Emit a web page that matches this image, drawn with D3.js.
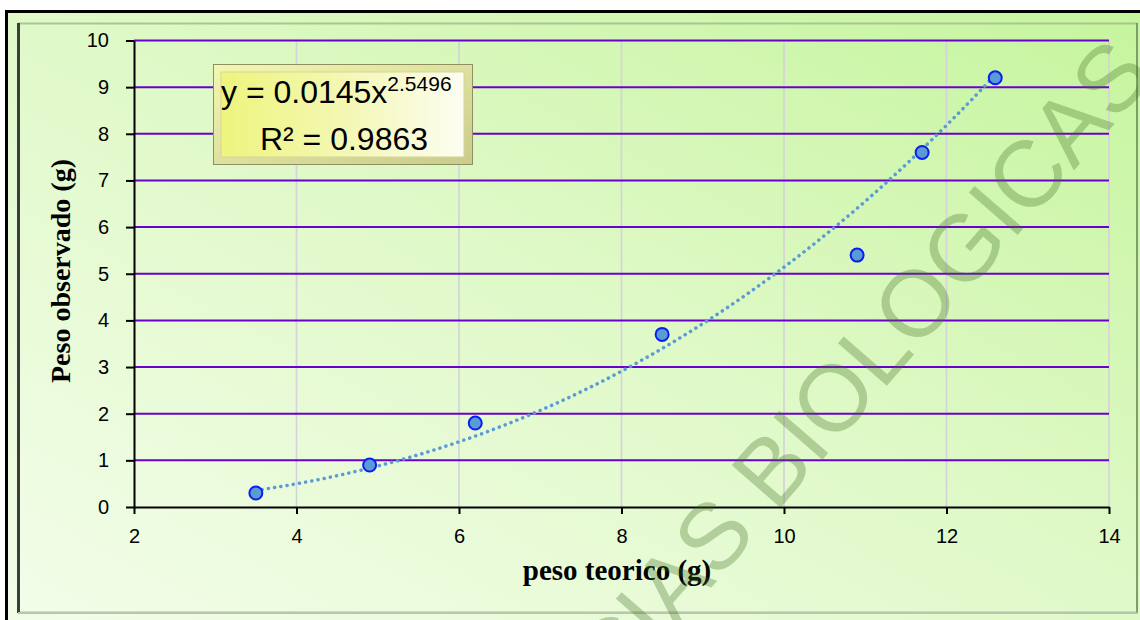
<!DOCTYPE html>
<html><head><meta charset="utf-8">
<script src="https://cdn.jsdelivr.net/npm/d3@7"></script>
<style>html,body{margin:0;padding:0;background:#fff;} svg{display:block;}</style>
</head><body><svg id="chart" width="1140" height="620"></svg>
<script>
// ---- data ----
const pesoTeorico   = [3.5, 4.9, 6.2, 8.5, 10.9, 11.7, 12.6];
const pesoObservado = [0.3, 0.9, 1.8, 3.7, 5.4, 7.6, 9.2];
const xTicks = [2, 4, 6, 8, 10, 12, 14];
const yTicks = [0, 1, 2, 3, 4, 5, 6, 7, 8, 9, 10];
const trendCoef = 0.0145;
const trendExp = 2.5496;
const rSquared = 0.9863;
const xTitle = "peso teorico (g)";
const yTitle = "Peso observado (g)";
const watermark = "CIENCIAS BIOLOGICAS";

const svg = d3.select("#chart");
const defs = svg.append("defs");

const bg = defs.append("linearGradient").attr("id","bg")
  .attr("x1","0").attr("y1","1").attr("x2","1").attr("y2","0");
bg.append("stop").attr("offset","0").attr("stop-color","#f3fde9");
bg.append("stop").attr("offset","0.5").attr("stop-color","#e0f9c9");
bg.append("stop").attr("offset","1").attr("stop-color","#c6f59e");

const bf = defs.append("linearGradient").attr("id","boxFill")
  .attr("x1","0").attr("y1","0").attr("x2","1").attr("y2","0");
bf.append("stop").attr("offset","0").attr("stop-color","#eef47e");
bf.append("stop").attr("offset","0.55").attr("stop-color","#f4f8b8");
bf.append("stop").attr("offset","1").attr("stop-color","#fdfdf2");

const be = defs.append("linearGradient").attr("id","boxEdge")
  .attr("x1","0").attr("y1","0").attr("x2","1").attr("y2","1");
be.append("stop").attr("offset","0").attr("stop-color","#f4f7b0");
be.append("stop").attr("offset","1").attr("stop-color","#c9cc8a");

// ---- frame ----
svg.append("rect").attr("x",6.5).attr("y",11.5).attr("width",1140).attr("height",620)
  .attr("fill","url(#bg)").attr("stroke","#000").attr("stroke-width",3);
svg.append("rect").attr("x",19).attr("y",23.5).attr("width",1118).attr("height",589)
  .attr("fill","url(#bg)").attr("stroke","#a9c692").attr("stroke-width",2);
svg.append("line").attr("x1",18.5).attr("x2",18.5).attr("y1",23).attr("y2",613)
  .attr("stroke","#3d3d3d").attr("stroke-width",3);
svg.append("line").attr("x1",1137).attr("x2",1137).attr("y1",23).attr("y2",613)
  .attr("stroke","#7f9f68").attr("stroke-width",2);
svg.append("line").attr("x1",18).attr("x2",1137).attr("y1",613).attr("y2",613)
  .attr("stroke","#b7c7ad").attr("stroke-width",2);

// ---- scales ----
const x = d3.scaleLinear().domain([2, 14]).range([134, 1109]);
const y = d3.scaleLinear().domain([0, 10]).range([507, 40.5]);

// gridlines
const g = svg.append("g");
g.selectAll("line.vg").data(xTicks.slice(1)).enter().append("line")
  .attr("x1", d => x(d)).attr("x2", d => x(d))
  .attr("y1", y(10)).attr("y2", y(0))
  .attr("stroke","#d4d2da").attr("stroke-width",1.6);
g.selectAll("line.hg").data(yTicks.slice(1)).enter().append("line")
  .attr("x1", x(2)).attr("x2", x(14))
  .attr("y1", d => y(d)).attr("y2", d => y(d))
  .attr("stroke","#6a00cc").attr("stroke-width",2);

// axes
const tickFont = "'Liberation Sans', Arial, sans-serif";
const xAxis = svg.append("g").attr("transform",`translate(0,${y(0)})`)
  .call(d3.axisBottom(x).tickValues(xTicks).tickSize(7).tickSizeOuter(0).tickPadding(15));
const yAxis = svg.append("g").attr("transform",`translate(${x(2)},0)`)
  .call(d3.axisLeft(y).tickValues(yTicks).tickSize(8).tickSizeOuter(0).tickPadding(17));
[xAxis, yAxis].forEach(a => {
  a.select(".domain").attr("stroke","#000").attr("stroke-width",2);
  a.selectAll(".tick line").attr("stroke","#000").attr("stroke-width",2);
  a.selectAll(".tick text").attr("fill","#000").style("font-family",tickFont).style("font-size","20px");
});

// axis titles
svg.append("text").attr("x",617).attr("y",580).attr("text-anchor","middle")
  .style("font-family","'Liberation Serif','Times New Roman',serif").style("font-weight","bold")
  .style("font-size","29px").attr("fill","#000").text(xTitle);
svg.append("text").attr("transform","translate(70,271) rotate(-90)").attr("text-anchor","middle")
  .style("font-family","'Liberation Serif','Times New Roman',serif").style("font-weight","bold")
  .style("font-size","28px").attr("fill","#000").text(yTitle);

// trendline (power fit shown in the box)
const trendX = d3.range(0, 101).map(i => pesoTeorico[0] + (pesoTeorico[pesoTeorico.length-1]-pesoTeorico[0]) * i / 100);
const line = d3.line().x(d => x(d)).y(d => y(trendCoef * Math.pow(d, trendExp)));
svg.append("path").datum(trendX).attr("d", line).attr("fill","none")
  .attr("stroke","#5b9bd5").attr("stroke-width",3.5)
  .attr("stroke-dasharray","0.1 6.2").attr("stroke-linecap","round");

// points
svg.selectAll("circle.pt").data(pesoTeorico).enter().append("circle")
  .attr("cx", d => x(d)).attr("cy", (d,i) => y(pesoObservado[i])).attr("r",6.5)
  .attr("fill","#5b9bd5").attr("stroke","#0a1ef0").attr("stroke-width",2);

// equation box
const box = svg.append("g");
box.append("rect").attr("x",213.5).attr("y",64.5).attr("width",259).attr("height",100)
  .attr("fill","url(#boxEdge)").attr("stroke","#8e9063").attr("stroke-width",1);
box.append("rect").attr("x",221).attr("y",72).attr("width",243).attr("height",85)
  .attr("fill","url(#boxFill)").attr("stroke","#d3d59a").attr("stroke-width",1);
const eqFont = "'Liberation Sans', Arial, sans-serif";
const t1 = box.append("text").attr("x",221).attr("y",103)
  .style("font-family",eqFont).style("font-size","32px").attr("fill","#000");
t1.append("tspan").text("y = " + trendCoef + "x");
t1.append("tspan").attr("dy",-12).style("font-size","21px").text(trendExp);
box.append("text").attr("x",344).attr("y",150).attr("text-anchor","middle")
  .style("font-family",eqFont).style("font-size","32px").attr("fill","#000")
  .text("R² = " + rSquared);

// watermark
svg.append("text").attr("transform","translate(1156,76) rotate(-49)").attr("text-anchor","end")
  .style("font-family","'Liberation Sans', Arial, sans-serif").style("font-size","94px")
  .attr("fill","#3c6a1e").attr("fill-opacity",0.3).text(watermark);
</script></body></html>
